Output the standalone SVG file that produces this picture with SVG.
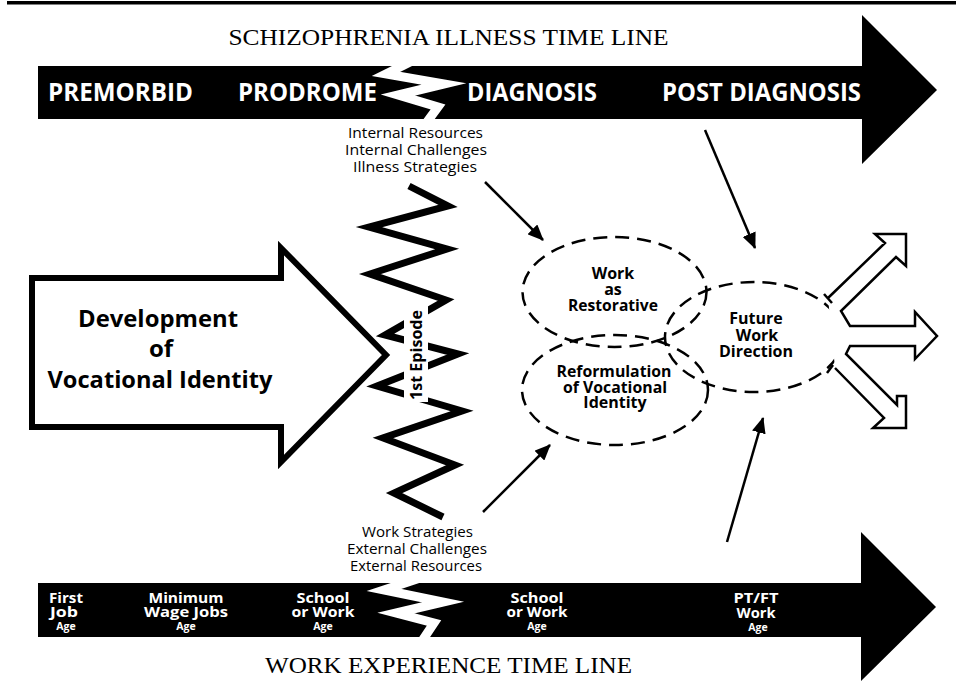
<svg xmlns="http://www.w3.org/2000/svg" width="956" height="697" viewBox="0 0 956 697">
<style>
.title{font-family:"Liberation Serif","Times New Roman",serif;font-size:24px;fill:#000}
.bar{font-family:"Open Sans","Liberation Sans",sans-serif;font-weight:700;font-size:25px;fill:#fff}
.bl{font-family:"Open Sans","Liberation Sans",sans-serif;font-weight:700;font-size:15px;fill:#fff;text-anchor:middle}
.age{font-family:"Open Sans","Liberation Sans",sans-serif;font-weight:700;font-size:10.5px;fill:#fff;text-anchor:middle}
.lbl{font-family:"Open Sans","Liberation Sans",sans-serif;font-size:15px;fill:#000}
.nb{font-family:"Open Sans","Liberation Sans",sans-serif;font-weight:700;font-size:16px;fill:#000;text-anchor:middle}
.big{font-family:"Open Sans","Liberation Sans",sans-serif;font-weight:700;font-size:24px;fill:#000;text-anchor:middle}
.dash{fill:none;stroke:#000;stroke-width:2.5;stroke-dasharray:14 8}
.conn{stroke:#000;stroke-width:2.5;fill:none}
.bolt{fill:none;stroke:#fff;stroke-width:9;stroke-linejoin:miter;stroke-miterlimit:10}
</style>
<defs>
<marker id="ah" markerUnits="userSpaceOnUse" markerWidth="16" markerHeight="14" refX="15" refY="7" orient="auto">
<path d="M0,0 L16,7 L0,14 z" fill="#000"/>
</marker>
<clipPath id="clipTop"><rect x="38" y="66" width="824" height="53"/></clipPath>
<clipPath id="clipBot"><rect x="38" y="583" width="823" height="54"/></clipPath>
</defs>

<rect x="7" y="1" width="949" height="3.5" fill="#000"/>

<g id="illness-timeline">
<text class="title" x="448.5" y="45" text-anchor="middle" textLength="440" lengthAdjust="spacingAndGlyphs">SCHIZOPHRENIA ILLNESS TIME LINE</text>
<polygon points="38,66 862,66 862,15 937,90 862,164 862,119 38,119" fill="#000"/>
<polyline class="bolt" clip-path="url(#clipTop)" points="418,58 386,74 444,84 398,95 438,107 424,126"/>
<text class="bar" x="48" y="101" textLength="145" lengthAdjust="spacingAndGlyphs">PREMORBID</text>
<text class="bar" x="238" y="101" textLength="139" lengthAdjust="spacingAndGlyphs">PRODROME</text>
<text class="bar" x="467" y="101" textLength="130" lengthAdjust="spacingAndGlyphs">DIAGNOSIS</text>
<text class="bar" x="662" y="101" textLength="199" lengthAdjust="spacingAndGlyphs">POST DIAGNOSIS</text>
</g>

<g id="internal-factors">
<text class="lbl" x="348" y="138" textLength="135" lengthAdjust="spacingAndGlyphs">Internal Resources</text>
<text class="lbl" x="345" y="155" textLength="142" lengthAdjust="spacingAndGlyphs">Internal Challenges</text>
<text class="lbl" x="353" y="172" textLength="124" lengthAdjust="spacingAndGlyphs">Illness Strategies</text>
</g>

<g id="development-arrow">
<polygon points="32,278 281,278 281,248 386,355 281,462 281,427 32,427" fill="#fff" stroke="#000" stroke-width="6" stroke-linejoin="miter"/>
<text class="big" x="158" y="327" textLength="160" lengthAdjust="spacingAndGlyphs">Development</text>
<text class="big" x="161" y="357">of</text>
<text class="big" x="160" y="388" textLength="225" lengthAdjust="spacingAndGlyphs">Vocational Identity</text>
</g>

<g id="first-episode">
<polyline points="409,186 448,206 369,227 447,249 370,274 446,300 385,335 458,354 377,386 462,411 383,438 455,465 394,493 443,517" fill="none" stroke="#000" stroke-width="7" stroke-linejoin="miter" stroke-miterlimit="10"/>
<rect x="404" y="306" width="24" height="96" fill="#fff"/>
<text class="nb" transform="translate(422,355) rotate(-90)" font-size="16" textLength="90" lengthAdjust="spacingAndGlyphs">1st Episode</text>
</g>

<g id="work-restorative">
<ellipse class="dash" cx="614.5" cy="292" rx="92" ry="55"/>
<text class="nb" x="613" y="279">Work</text>
<text class="nb" x="613" y="295">as</text>
<text class="nb" x="613" y="311" textLength="90" lengthAdjust="spacingAndGlyphs">Restorative</text>
</g>

<g id="reformulation">
<ellipse class="dash" cx="615" cy="390" rx="93" ry="55"/>
<text class="nb" x="614" y="377" textLength="115" lengthAdjust="spacingAndGlyphs">Reformulation</text>
<text class="nb" x="615" y="393" textLength="104" lengthAdjust="spacingAndGlyphs">of Vocational</text>
<text class="nb" x="615" y="408">Identity</text>
</g>

<g id="future-direction">
<ellipse class="dash" cx="754" cy="337" rx="89" ry="55"/>
<text class="nb" x="756" y="324">Future</text>
<text class="nb" x="757" y="341">Work</text>
<text class="nb" x="756" y="357" textLength="74" lengthAdjust="spacingAndGlyphs">Direction</text>
</g>

<g id="outcome-arrows">
<polygon points="828,298 885,243 875,234 906,234 906,266 896,257 841,311 850,326 915,326 915,312 937,336 915,359 915,346 850,346 846,354 897,405 897,396 906,396 906,428 873,428 884,418 835,368" fill="#fff" stroke="none"/>
<polyline points="828,298 885,243 875,234 906,234 906,266 896,257 841,311 850,326 915,326 915,312 937,336 915,359 915,346 850,346 846,354 897,405 897,396 906,396 906,428 873,428 884,418 835,368" fill="none" stroke="#000" stroke-width="2.5" stroke-linejoin="miter"/>
<line x1="824" y1="294" x2="832" y2="303" stroke="#000" stroke-width="2.5"/>
<line x1="833" y1="365" x2="827" y2="373" stroke="#000" stroke-width="2.5"/>
</g>

<g id="connectors">
<line class="conn" x1="485" y1="182" x2="543" y2="240" marker-end="url(#ah)"/>
<line class="conn" x1="705" y1="130" x2="755" y2="248" marker-end="url(#ah)"/>
<line class="conn" x1="483" y1="512" x2="550" y2="445" marker-end="url(#ah)"/>
<line class="conn" x1="727" y1="542" x2="763" y2="418" marker-end="url(#ah)"/>
</g>

<g id="external-factors">
<text class="lbl" x="362" y="537" textLength="111" lengthAdjust="spacingAndGlyphs">Work Strategies</text>
<text class="lbl" x="347" y="554" textLength="140" lengthAdjust="spacingAndGlyphs">External Challenges</text>
<text class="lbl" x="350" y="571" textLength="132" lengthAdjust="spacingAndGlyphs">External Resources</text>
</g>

<g id="work-timeline">
<polygon points="38,583 861,583 861,532 936,607 861,681 861,637 38,637" fill="#000"/>
<polyline class="bolt" clip-path="url(#clipBot)" points="426,576 384,590 443,602 396,613 434,623 420,644"/>
<text class="bl" x="49" y="603" style="text-anchor:start" textLength="34" lengthAdjust="spacingAndGlyphs">First</text>
<text class="bl" x="50" y="617" style="text-anchor:start" textLength="28" lengthAdjust="spacingAndGlyphs">Job</text>
<text class="age" x="66" y="630">Age</text>
<text class="bl" x="186" y="603" textLength="75" lengthAdjust="spacingAndGlyphs">Minimum</text>
<text class="bl" x="186" y="617" textLength="84" lengthAdjust="spacingAndGlyphs">Wage Jobs</text>
<text class="age" x="186" y="630">Age</text>
<text class="bl" x="323" y="603" textLength="53" lengthAdjust="spacingAndGlyphs">School</text>
<text class="bl" x="323" y="617" textLength="63" lengthAdjust="spacingAndGlyphs">or Work</text>
<text class="age" x="323" y="630">Age</text>
<text class="bl" x="537" y="603" textLength="53" lengthAdjust="spacingAndGlyphs">School</text>
<text class="bl" x="537" y="617" textLength="61" lengthAdjust="spacingAndGlyphs">or Work</text>
<text class="age" x="537" y="630">Age</text>
<text class="bl" x="756" y="603" textLength="45" lengthAdjust="spacingAndGlyphs">PT/FT</text>
<text class="bl" x="756" y="618" textLength="39" lengthAdjust="spacingAndGlyphs">Work</text>
<text class="age" x="758" y="631">Age</text>
<text class="title" x="448.5" y="673" text-anchor="middle" textLength="367" lengthAdjust="spacingAndGlyphs">WORK EXPERIENCE TIME LINE</text>
</g>
</svg>
